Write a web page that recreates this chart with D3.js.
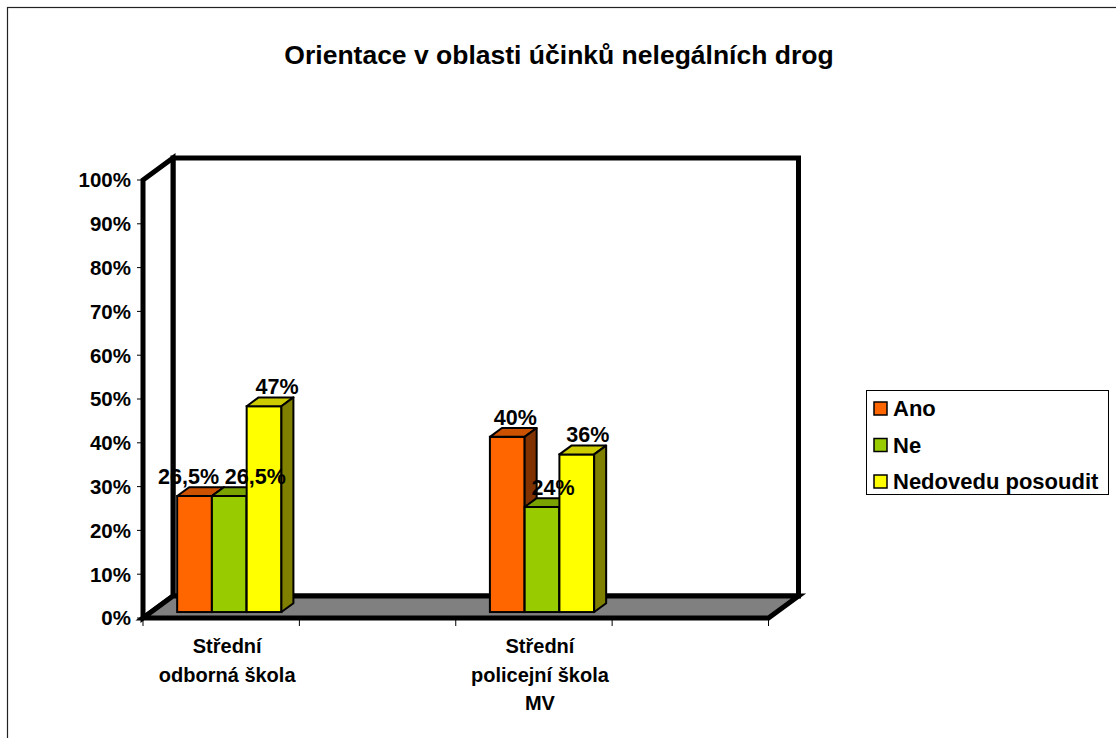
<!DOCTYPE html>
<html>
<head>
<meta charset="utf-8">
<script src="https://cdn.jsdelivr.net/npm/d3@7"></script>
<style>
  html, body { margin: 0; padding: 0; background: #fff; }
  svg { display: block; font-family: "Liberation Sans", Arial, sans-serif; font-weight: bold; }
</style>
</head>
<body>
<svg id="chart" width="1116" height="738"></svg>
<script>
// ---- data ----
const categories = ["Střední odborná škola", "", "Střední policejní škola MV", ""];
const seriesNames = ["Ano", "Ne", "Nedovedu posoudit"];
const ano = [26.5, null, 40, null];
const ne = [26.5, null, 24, null];
const nedovedu = [47, null, 36, null];
const yTicks = [0, 10, 20, 30, 40, 50, 60, 70, 80, 90, 100];
const chartTitle = "Orientace v oblasti účinků nelegálních drog";

// ---- styles ----
const colors = ["#FF6600", "#99CC00", "#FFFF00"];
const labelNudge = [[-17, 15, 2], [0, 0, 0], [-3, 0, 0], [0, 0, 0]];

(function () {
const svg = d3.select("#chart");
const seriesValues = [ano, ne, nedovedu];

// outer frame
svg.append("rect").attr("x", 7.5).attr("y", 7.5).attr("width", 1300).attr("height", 900)
  .attr("fill", "none").attr("stroke", "#222").attr("stroke-width", 1.2);

// title
svg.append("text").attr("x", 559).attr("y", 64).attr("text-anchor", "middle")
  .attr("font-size", 26.5).text(chartTitle);

// geometry
const pLeft = 143, pRight = 768.5, pBottom = 618, pTop = 180;
const depth = { dx: 30, dy: -22 };
const f0 = 0.27, f1 = 0.67;

const x = d3.scaleBand().domain(d3.range(categories.length)).range([pLeft, pRight])
  .paddingInner(1 / 3).paddingOuter(1 / 6);
const step = x.step();
const x1 = d3.scaleBand().domain(d3.range(seriesNames.length)).range([0, x.bandwidth()]);
const y = d3.scaleLinear().domain([0, 100]).range([pBottom, pTop]);

const walls = svg.append("g");
// back wall
walls.append("rect")
  .attr("x", pLeft + depth.dx).attr("y", y(100) + depth.dy)
  .attr("width", pRight - pLeft).attr("height", y(0) - y(100))
  .attr("fill", "#fff").attr("stroke", "#000").attr("stroke-width", 5).attr("stroke-linejoin", "miter");
// left wall
walls.append("polygon")
  .attr("points", [[pLeft, y(100)], [pLeft + depth.dx, y(100) + depth.dy], [pLeft + depth.dx, y(0) + depth.dy], [pLeft, y(0)]].join(" "))
  .attr("fill", "#fff").attr("stroke", "#000").attr("stroke-width", 5).attr("stroke-linejoin", "miter");
// floor
walls.append("polygon")
  .attr("points", [[pLeft, y(0)], [pLeft + depth.dx, y(0) + depth.dy], [pRight + depth.dx, y(0) + depth.dy], [pRight, y(0)]].join(" "))
  .attr("fill", "#808080").attr("stroke", "#000").attr("stroke-width", 5).attr("stroke-linejoin", "miter");

// y axis ticks & labels
const yAxis = svg.append("g");
yTicks.forEach(t => {
  yAxis.append("line").attr("x1", pLeft - 6).attr("x2", pLeft).attr("y1", y(t)).attr("y2", y(t))
    .attr("stroke", "#000").attr("stroke-width", 1);
  yAxis.append("text").attr("x", pLeft - 12).attr("y", y(t)).attr("dy", "0.36em")
    .attr("text-anchor", "end").attr("font-size", 20.5).text(t + "%");
});

// category ticks
const xAxis = svg.append("g");
d3.range(categories.length + 1).forEach(i => {
  const xx = pLeft + i * step;
  xAxis.append("line").attr("x1", xx).attr("x2", xx).attr("y1", pBottom + 2).attr("y2", pBottom + 8)
    .attr("stroke", "#000").attr("stroke-width", 1);
});

// category labels with wrapping
categories.forEach((c, i) => {
  if (!c) return;
  const cx = x(i) + x.bandwidth() / 2 + 6;
  const words = c.split(" ");
  const lines = [];
  let cur = "";
  const t = svg.append("text").attr("font-size", 20).attr("visibility", "hidden");
  words.forEach(w => {
    const test = cur ? cur + " " + w : w;
    t.text(test);
    if (t.node().getComputedTextLength() > step - 2 && cur) { lines.push(cur); cur = w; }
    else cur = test;
  });
  lines.push(cur);
  t.remove();
  lines.forEach((ln, k) => {
    xAxis.append("text").attr("x", cx).attr("y", 653 + k * 28.5).attr("text-anchor", "middle")
      .attr("font-size", 20).text(ln);
  });
});

// bars
const bars = svg.append("g");
const shade = (c, k) => { const r = d3.rgb(c); return d3.rgb(r.r * k, r.g * k, r.b * k).toString(); };
const fmt = v => String(v).replace(".", ",") + "%";
const labels = [];
categories.forEach((c, i) => {
  seriesValues.forEach((vals, s) => {
    const v = vals[i];
    if (v == null) return;
    const bx = x(i) + x1(s), bw = x1.bandwidth();
    const ox0 = depth.dx * f0, oy0 = depth.dy * f0;
    const ox1 = depth.dx * f1, oy1 = depth.dy * f1;
    const xl = bx + ox0, xr = bx + bw + ox0;
    const yt = y(v) + oy0, yb = y(0) + oy0;
    const dx = ox1 - ox0, dy = oy1 - oy0;
    bars.append("rect").attr("x", xl).attr("y", yt).attr("width", bw).attr("height", yb - yt)
      .attr("fill", colors[s]).attr("stroke", "#000").attr("stroke-width", 2);
    bars.append("polygon").attr("points", [[xl, yt], [xr, yt], [xr + dx, yt + dy], [xl + dx, yt + dy]].join(" "))
      .attr("fill", shade(colors[s], 0.8)).attr("stroke", "#000").attr("stroke-width", 2).attr("stroke-linejoin", "round");
    bars.append("polygon").attr("points", [[xr, yt], [xr + dx, yt + dy], [xr + dx, yb + dy], [xr, yb]].join(" "))
      .attr("fill", shade(colors[s], 0.5)).attr("stroke", "#000").attr("stroke-width", 2).attr("stroke-linejoin", "round");
    labels.push({ x: (xl + xr) / 2 + 11 + labelNudge[i][s], y: yt - 12, text: fmt(v) });
  });
});
const lab = svg.append("g");
labels.forEach(l => {
  lab.append("text").attr("x", l.x).attr("y", l.y).attr("text-anchor", "middle")
    .attr("font-size", 21.5).text(l.text);
});

// legend
const lg = svg.append("g");
lg.append("rect").attr("x", 866.5).attr("y", 390.5).attr("width", 242).attr("height", 104)
  .attr("fill", "#fff").attr("stroke", "#000").attr("stroke-width", 1);
seriesNames.forEach((n, s) => {
  const yy = 402 + s * 36.5;
  lg.append("rect").attr("x", 874).attr("y", yy).attr("width", 13).attr("height", 13)
    .attr("fill", colors[s]).attr("stroke", "#000").attr("stroke-width", 1.5);
  lg.append("text").attr("x", 893).attr("y", yy + 14).attr("font-size", 22).text(n);
});
})();
</script>
</body>
</html>
